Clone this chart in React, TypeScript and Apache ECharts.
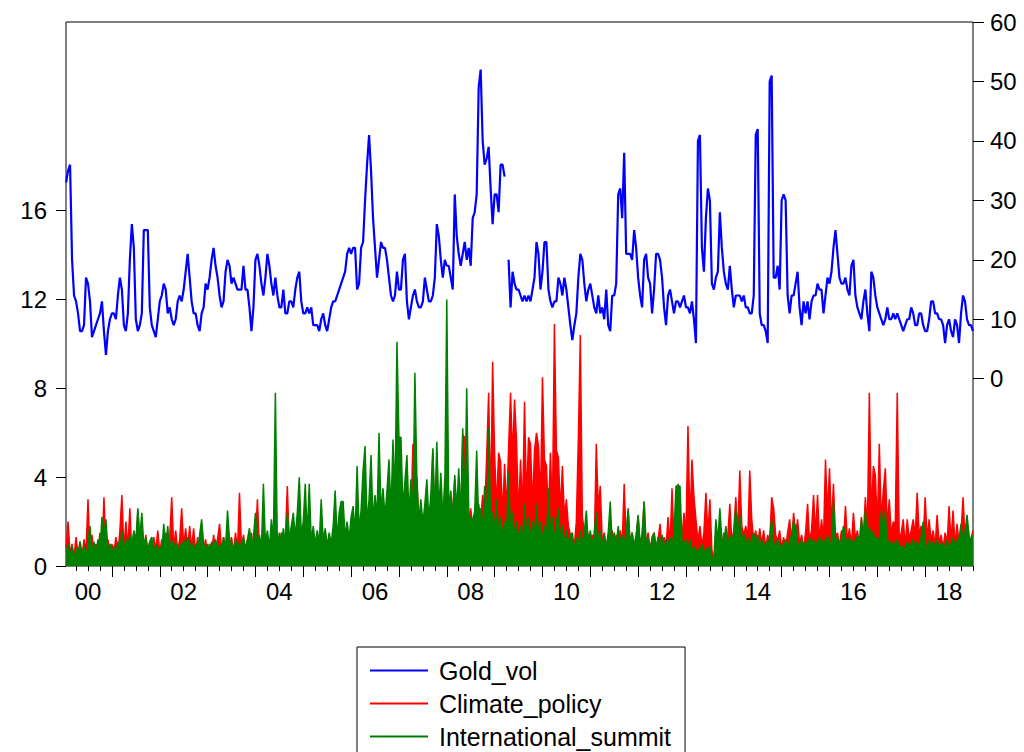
import React, { useEffect, useRef } from "react";
import * as echarts from "echarts";

const FIRST_YEAR = 2000;
const POINTS_PER_YEAR = 24; // half-monthly readings, one row per year

// Gold_vol (right axis), one row per year 2000..2018
const goldVol: (number | null)[][] = [
  [33, 35, 36, 20, 14, 13, 11, 8, 8, 9, 17, 16, 13, 7, 8, 9, 10, 11, 13, 8, 4, 8, 10, 11],
  [11, 10, 14, 17, 15, 9, 8, 11, 20, 26, 22, 10, 8, 9, 11, 25, 25, 25, 12, 9, 8, 7, 10, 13],
  [14, 16, 15, 11, 12, 10, 9, 10, 13, 14, 13, 15, 18, 21, 17, 13, 11, 11, 9, 8, 11, 12, 16, 15],
  [17, 20, 22, 19, 17, 14, 12, 13, 18, 20, 19, 16, 17, 16, 15, 15, 15, 19, 15, 15, 12, 8, 12, 20],
  [21, 19, 16, 14, 17, 21, 19, 16, 14, 17, 14, 12, 12, 15, 11, 11, 13, 13, 12, 15, 17, 18, 13, 11],
  [11, 12, 11, 12, 9, 9, 9, 8, 10, 11, 9, 8, 10, 12, 13, 13, 14, 15, 16, 17, 18, 21, 22, 21],
  [22, 22, 15, 16, 22, 23, 30, 36, 41, 35, 27, 22, 17, 20, 23, 22, 22, 20, 17, 14, 13, 14, 18, 15],
  [15, 20, 21, 13, 10, 12, 14, 15, 13, 12, 12, 13, 17, 15, 13, 13, 14, 17, 26, 24, 20, 17, 20, 19],
  [19, 17, 15, 31, 24, 21, 19, 21, 23, 20, 22, 19, 27, 28, 31, 49, 52, 40, 36, 37, 39, 32, 26, 31],
  [31, 28, 36, 36, 34, null, 20, 12, 18, 16, 15, 15, 14, 13, 14, 13, 14, 13, 15, 17, 23, 21, 15, 18],
  [23, 23, 15, 13, 12, 13, 13, 17, 16, 14, 17, 15, 12, 9, 6.5, 9, 11, 17, 21, 20, 16, 13, 15, 16],
  [14, 12, 11, 14, 11, 12, 10, 15, 9, 8, 14, 14, 16, 31, 32, 27, 38, 21, 21, 21, 20, 25, 22, 17],
  [14, 12, 20, 21, 17, 16, 11, 15, 21, 21, 20, 17, 12, 9, 14, 15, 13, 11, 13, 13, 12, 13, 14, 12],
  [12, 11, 13, 10, 6, 40, 41, 22, 18, 27, 32, 30, 16, 15, 17, 18, 28, 22, 18, 16, 15, 19, 15, 12],
  [14, 14, 14, 13, 14, 12, 12, 11, 11, 14, 41, 42, 11, 9, 9, 8, 6, 50, 51, 17, 17, 19, 15, 30],
  [31, 30, 14, 11, 14, 14, 16, 18, 12, 9, 13, 11, 13, 10, 13, 14, 14, 16, 15, 15, 11, 14, 17, 16],
  [18, 22, 25, 21, 17, 16, 16, 17, 15, 14, 19, 20, 14, 12, 11, 10, 13, 15, 11, 8, 18, 17, 14, 12],
  [11, 10, 9, 10, 12, 10, 10, 11, 10, 11, 10, 9, 8, 9, 10, 10, 12, 11, 9, 9, 11, 11, 9, 8],
  [8, 10, 13, 13, 11, 11, 10, 10, 9, 6, 9, 10, 8, 7, 10, 9, 6, 11, 14, 13, 10, 9, 9, 8],
];

// Climate_policy (left axis)
const climatePolicy: number[][] = [
  [0.8, 2.0, 0.5, 1.0, 0.4, 1.3, 0.5, 1.1, 0.4, 1.2, 0.6, 3.0, 0.5, 1.4, 0.4, 1.0, 0.6, 1.5, 0.5, 3.1, 0.7, 1.2, 0.4, 1.0],
  [0.6, 1.3, 0.5, 1.6, 3.2, 0.7, 2.0, 0.8, 2.6, 0.6, 1.5, 0.7, 2.5, 0.8, 1.2, 0.5, 1.4, 0.6, 1.1, 0.4, 1.3, 0.7, 1.6, 0.6],
  [1.2, 0.7, 1.5, 0.6, 1.3, 3.1, 0.8, 1.6, 0.7, 1.2, 2.6, 0.9, 1.7, 0.7, 1.8, 0.8, 1.7, 0.6, 1.3, 0.5, 1.5, 0.7, 1.2, 0.4],
  [1.0, 0.5, 1.4, 0.6, 1.2, 1.9, 0.7, 1.3, 0.5, 1.6, 0.8, 1.3, 0.6, 1.5, 0.7, 3.3, 0.8, 1.4, 0.5, 1.2, 0.7, 1.5, 0.5, 1.1],
  [3.0, 0.7, 1.2, 0.5, 1.4, 0.6, 1.1, 0.4, 1.0, 0.5, 1.3, 0.7, 1.5, 0.6, 1.2, 3.6, 0.8, 1.4, 0.6, 1.6, 0.7, 1.3, 0.6, 1.2],
  [0.5, 1.1, 0.6, 1.3, 0.5, 1.2, 0.7, 1.4, 0.6, 1.0, 1.5, 0.6, 1.2, 0.5, 1.3, 0.7, 1.7, 0.8, 1.6, 0.7, 1.6, 0.8, 1.3, 0.7],
  [1.2, 0.7, 1.5, 0.9, 1.6, 1.0, 1.8, 0.9, 1.5, 1.0, 2.0, 1.0, 1.8, 3.0, 1.4, 3.0, 1.3, 2.0, 1.4, 2.5, 1.5, 2.2, 6.8, 1.6],
  [2.0, 1.3, 2.4, 1.6, 2.6, 1.8, 5.5, 2.0, 4.0, 1.6, 2.4, 1.4, 2.2, 1.6, 2.6, 1.7, 5.2, 1.8, 2.8, 2.0, 2.6, 1.8, 4.0, 2.0],
  [2.5, 1.6, 2.6, 3.9, 1.8, 2.8, 2.0, 5.9, 5.8, 2.2, 2.0, 2.6, 1.7, 2.5, 1.8, 2.8, 2.0, 3.2, 2.4, 4.9, 7.8, 2.6, 9.2, 5.0],
  [2.6, 5.1, 4.7, 2.2, 4.6, 2.4, 5.3, 7.8, 4.8, 7.5, 5.6, 2.2, 4.8, 2.4, 7.4, 2.8, 5.8, 5.5, 2.6, 5.2, 6.0, 5.4, 2.8, 8.5],
  [4.8, 4.5, 2.2, 5.1, 2.4, 10.9, 5.2, 4.9, 2.4, 4.5, 2.2, 3.0, 1.8, 1.4, 1.1, 0.9, 2.0, 5.7, 10.4, 2.2, 1.6, 1.8, 1.3, 1.2],
  [1.4, 0.9, 5.5, 2.6, 3.6, 1.1, 1.5, 0.8, 1.4, 1.0, 1.6, 0.8, 1.4, 0.9, 1.6, 1.0, 3.7, 1.1, 2.6, 0.9, 1.5, 0.7, 1.3, 2.2],
  [0.9, 1.4, 2.9, 0.9, 1.5, 0.7, 1.3, 1.5, 0.8, 1.2, 1.9, 0.7, 1.3, 0.8, 2.2, 0.9, 3.5, 1.1, 1.6, 3.7, 2.4, 1.2, 2.4, 1.4],
  [6.3, 1.8, 4.8, 3.1, 2.1, 1.1, 1.8, 0.9, 1.5, 3.3, 1.4, 3.0, 0.7, 0.4, 0.6, 1.1, 1.8, 0.9, 1.5, 0.8, 1.4, 2.8, 1.1, 1.6],
  [3.1, 1.4, 4.3, 1.8, 1.4, 1.8, 1.2, 4.3, 2.1, 1.1, 1.6, 0.9, 1.7, 1.0, 1.6, 0.8, 1.4, 1.0, 3.1, 2.6, 1.4, 1.1, 1.6, 0.8],
  [1.3, 0.8, 1.5, 2.1, 1.1, 2.4, 1.4, 2.1, 1.0, 1.4, 0.8, 1.5, 2.8, 1.1, 1.6, 3.2, 1.4, 3.2, 1.1, 2.1, 1.2, 4.8, 2.3, 4.4],
  [1.8, 3.7, 1.3, 1.5, 0.9, 1.6, 1.0, 2.7, 1.1, 1.7, 0.9, 2.4, 1.2, 1.6, 0.9, 2.2, 1.3, 3.1, 1.6, 7.8, 2.2, 4.5, 4.1, 1.8],
  [5.5, 2.0, 3.4, 4.4, 1.8, 3.0, 1.4, 2.0, 1.8, 7.8, 1.1, 1.5, 2.1, 0.9, 2.1, 1.2, 1.6, 2.1, 1.3, 3.3, 1.4, 1.8, 1.1, 3.1],
  [1.2, 2.1, 1.1, 1.6, 0.9, 2.3, 1.0, 1.4, 0.8, 1.5, 1.0, 2.7, 1.1, 2.5, 0.9, 1.9, 1.0, 1.5, 3.1, 1.2, 2.0, 1.0, 1.2, 1.6],
];

// International_summit (left axis)
const internationalSummit: number[][] = [
  [0.6, 1.0, 0.4, 0.9, 0.3, 0.8, 0.4, 1.1, 0.5, 0.9, 0.4, 1.0, 1.8, 0.6, 1.1, 0.5, 1.2, 0.7, 2.2, 1.3, 2.1, 0.7, 1.0, 0.5],
  [0.9, 0.4, 1.1, 0.6, 1.6, 0.7, 1.2, 0.8, 1.4, 0.9, 1.6, 1.1, 2.6, 1.3, 2.4, 0.9, 1.3, 0.7, 1.1, 1.3, 0.6, 1.0, 0.5, 0.9],
  [0.6, 1.9, 0.8, 1.8, 0.7, 1.2, 0.6, 1.1, 0.5, 1.0, 0.6, 1.2, 0.7, 1.3, 0.6, 1.1, 0.5, 1.0, 0.7, 1.4, 2.1, 1.0, 0.6, 1.0],
  [0.5, 1.1, 0.6, 1.2, 0.7, 1.0, 0.5, 1.3, 0.8, 2.5, 1.2, 1.0, 0.6, 1.2, 0.7, 1.1, 0.6, 1.3, 0.8, 1.2, 1.7, 0.9, 1.3, 2.4],
  [0.9, 1.4, 0.8, 3.7, 1.0, 1.6, 0.8, 2.1, 1.1, 7.8, 0.9, 1.5, 1.0, 1.7, 1.0, 2.4, 1.2, 1.8, 2.4, 1.3, 2.4, 4.0, 1.4, 2.0],
  [3.7, 1.3, 3.7, 1.1, 1.8, 1.0, 1.6, 1.0, 3.0, 1.1, 1.7, 0.9, 1.5, 1.0, 1.8, 3.4, 1.2, 2.4, 2.9, 2.9, 1.3, 2.0, 1.2, 2.2],
  [2.7, 1.4, 4.5, 1.6, 2.5, 4.3, 5.4, 1.9, 3.0, 5.0, 2.0, 3.2, 2.2, 6.0, 2.4, 3.5, 2.2, 3.4, 4.8, 2.4, 5.7, 3.0, 10.1, 5.8],
  [5.8, 2.6, 3.8, 5.0, 2.3, 3.9, 2.2, 8.7, 3.9, 2.0, 3.0, 1.9, 2.8, 3.9, 2.1, 3.2, 5.3, 2.3, 5.6, 2.5, 4.2, 2.2, 3.4, 12.0],
  [2.4, 3.4, 2.1, 4.1, 2.5, 4.4, 2.2, 6.2, 2.4, 8.0, 2.5, 2.0, 2.1, 2.4, 5.2, 1.9, 2.6, 1.6, 3.6, 1.8, 6.2, 1.9, 2.4, 1.6],
  [3.0, 1.4, 2.2, 1.3, 2.0, 1.5, 4.2, 1.4, 2.4, 1.3, 2.0, 1.2, 1.8, 1.1, 2.8, 1.4, 2.2, 1.2, 2.0, 1.3, 2.8, 1.4, 2.0, 1.1],
  [1.8, 1.2, 3.5, 1.4, 2.2, 1.1, 1.9, 2.6, 1.2, 1.8, 1.0, 1.6, 1.0, 1.4, 1.5, 0.7, 1.3, 0.9, 1.6, 1.0, 1.5, 2.5, 1.0, 1.6],
  [0.9, 1.5, 2.4, 1.0, 1.6, 0.9, 1.4, 0.8, 1.5, 2.9, 1.0, 1.5, 0.9, 1.8, 1.0, 1.4, 0.9, 1.6, 2.5, 1.0, 1.5, 0.9, 1.4, 2.3],
  [1.0, 1.4, 2.9, 0.9, 1.3, 0.7, 1.2, 1.5, 0.8, 1.3, 0.9, 1.4, 0.7, 1.2, 0.9, 1.3, 0.8, 1.5, 3.6, 3.6, 3.6, 1.1, 0.9, 1.2],
  [0.7, 1.2, 0.6, 0.9, 0.5, 0.8, 0.6, 1.0, 0.5, 0.8, 0.6, 0.9, 0.4, 0.3, 2.1, 1.1, 2.6, 1.2, 1.0, 1.8, 0.9, 1.4, 1.0, 1.5],
  [2.6, 1.1, 2.3, 1.0, 1.5, 0.8, 1.3, 0.9, 1.2, 1.5, 0.9, 1.4, 0.8, 1.2, 0.7, 1.1, 0.8, 1.3, 2.1, 1.0, 0.8, 1.2, 0.7, 1.0],
  [0.8, 1.2, 0.7, 1.1, 1.4, 2.0, 1.8, 1.0, 0.8, 1.2, 0.7, 1.1, 0.8, 1.3, 0.9, 1.2, 0.8, 1.1, 1.3, 0.9, 1.2, 0.8, 1.4, 1.0],
  [1.1, 2.9, 1.0, 1.3, 0.8, 1.2, 1.8, 1.3, 0.9, 1.3, 0.8, 1.2, 0.9, 1.4, 1.0, 2.1, 1.1, 2.5, 1.2, 1.8, 1.0, 1.6, 0.9, 1.3],
  [1.1, 2.5, 1.2, 2.5, 0.8, 1.2, 0.7, 1.1, 0.8, 1.2, 0.7, 0.9, 0.9, 0.7, 1.1, 0.8, 1.0, 1.2, 0.7, 1.1, 0.8, 1.3, 2.0, 1.0],
  [0.8, 1.2, 0.7, 1.1, 0.8, 1.2, 0.7, 1.0, 1.0, 0.8, 1.2, 0.7, 1.0, 1.3, 0.8, 1.1, 1.2, 1.9, 1.0, 1.5, 2.3, 1.4, 1.1, 1.4],
];

const yearLabels = ["00", "02", "04", "06", "08", "10", "12", "14", "16", "18"];
const leftTickValues = [0, 4, 8, 12, 16];
const rightTickValues = [0, 10, 20, 30, 40, 50, 60];
const seriesNames = ["Gold_vol", "Climate_policy", "International_summit"];
const seriesColors = ["#0000ff", "#ff0000", "#008000"];

const X_MIN = 2000.04;
const X_MAX = 2019;
const FONT = "'Liberation Sans', Arial, Helvetica, sans-serif";

function toSeries(rows: (number | null)[][]) {
  const out: (number | null)[][] = [];
  rows.forEach((row, yi) =>
    row.forEach((v, i) => {
      out.push([FIRST_YEAR + yi + (i + 1) / POINTS_PER_YEAR, v]);
    })
  );
  return out;
}

const quarterTicks: number[] = [];
const yearTicks: number[] = [];
for (let y = FIRST_YEAR; y < FIRST_YEAR + goldVol.length; y++) {
  for (let q = 1; q < 4; q++) quarterTicks.push(y + q / 4);
  if (y > FIRST_YEAR) yearTicks.push(y);
}
quarterTicks.push(FIRST_YEAR + goldVol.length);
const labelValues = yearLabels.map((_, k) => FIRST_YEAR + 2 * k + 0.5);

export default function App() {
  const ref = useRef<HTMLDivElement>(null);

  useEffect(() => {
    document.body.style.margin = "0";
    if (!ref.current) return;
    const chart = echarts.init(ref.current, undefined, { renderer: "svg" });
    const axisText = { color: "#000", fontFamily: FONT, fontSize: 24 };
    chart.setOption({
      animation: false,
      backgroundColor: "#fff",
      grid: {
        left: 66,
        top: 22,
        right: 51,
        bottom: 186,
        show: true,
        borderColor: "#000",
        borderWidth: 1,
        backgroundColor: "transparent",
      },
      legend: {
        orient: "vertical",
        left: 357,
        top: 647,
        height: 140,
        padding: [11, 14, 11, 13],
        itemGap: 8,
        itemWidth: 58,
        itemHeight: 2,
        icon: "rect",
        borderColor: "#000",
        borderWidth: 1,
        borderRadius: 0,
        backgroundColor: "#fff",
        selectedMode: false,
        textStyle: { fontSize: 25, lineHeight: 24, fontFamily: FONT, color: "#000", padding: [0, 0, 0, 6] },
        data: seriesNames,
      },
      xAxis: [
        {
          type: "value",
          min: X_MIN,
          max: X_MAX,
          position: "bottom",
          axisLine: { show: false, onZero: false },
          splitLine: { show: false },
          axisTick: { show: true, customValues: quarterTicks, length: 5, lineStyle: { color: "#000", width: 1 } },
          axisLabel: {
            ...axisText,
            customValues: labelValues,
            margin: 13,
            formatter: (v: number) => yearLabels[Math.round((v - FIRST_YEAR - 0.5) / 2)] ?? "",
          },
        },
        {
          type: "value",
          min: X_MIN,
          max: X_MAX,
          position: "bottom",
          axisLine: { show: false, onZero: false },
          splitLine: { show: false },
          axisTick: { show: true, customValues: yearTicks, length: 11, lineStyle: { color: "#000", width: 1 } },
          axisLabel: { show: false },
        },
      ],
      yAxis: [
        {
          type: "value",
          min: 0,
          max: 24.5,
          position: "left",
          axisLine: { show: false, onZero: false },
          splitLine: { show: false },
          axisTick: { show: true, customValues: leftTickValues, length: 10, lineStyle: { color: "#000", width: 1 } },
          axisLabel: { ...axisText, customValues: leftTickValues, margin: 19, padding: [0, 0, 10, 0] },
        },
        {
          type: "value",
          min: -31.5,
          max: 60,
          position: "right",
          axisLine: { show: false, onZero: false },
          splitLine: { show: false },
          axisTick: { show: true, customValues: rightTickValues, length: 11, lineStyle: { color: "#000", width: 1 } },
          axisLabel: { ...axisText, customValues: rightTickValues, margin: 17, padding: [0, 0, 10, 0] },
        },
      ],
      series: [
        {
          name: seriesNames[0],
          type: "line",
          xAxisIndex: 0,
          yAxisIndex: 1,
          data: toSeries(goldVol),
          symbol: "none",
          connectNulls: false,
          z: 4,
          lineStyle: { color: seriesColors[0], width: 2.2 },
          itemStyle: { color: seriesColors[0] },
        },
        {
          name: seriesNames[1],
          type: "line",
          xAxisIndex: 0,
          yAxisIndex: 0,
          data: toSeries(climatePolicy),
          symbol: "none",
          z: 2,
          lineStyle: { color: seriesColors[1], width: 1.5 },
          itemStyle: { color: seriesColors[1] },
          areaStyle: { color: seriesColors[1], opacity: 1 },
        },
        {
          name: seriesNames[2],
          type: "line",
          xAxisIndex: 0,
          yAxisIndex: 0,
          data: toSeries(internationalSummit),
          symbol: "none",
          z: 3,
          lineStyle: { color: seriesColors[2], width: 1.5 },
          itemStyle: { color: seriesColors[2] },
          areaStyle: { color: seriesColors[2], opacity: 1 },
        },
      ],
    });
    return () => chart.dispose();
  }, []);

  return <div ref={ref} style={{ width: 1024, height: 752 }} />;
}
